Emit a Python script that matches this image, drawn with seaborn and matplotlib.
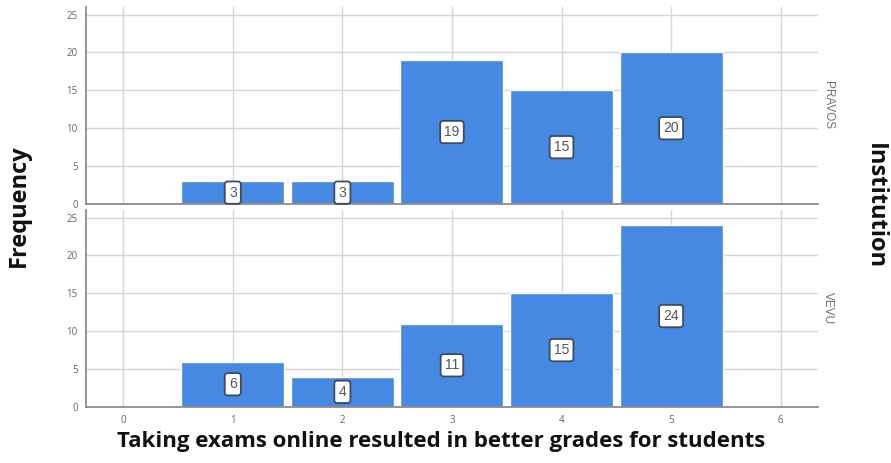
import matplotlib
matplotlib.use("Agg")
import matplotlib.pyplot as plt
import pandas as pd
import seaborn as sns

# Data
scores = [1, 2, 3, 4, 5]
pravos_counts = [3, 3, 19, 15, 20]
vevu_counts = [6, 4, 11, 15, 24]
institutions = ["PRAVOS", "VEVU"]
x_ticks = [0, 1, 2, 3, 4, 5, 6]
y_ticks = [0, 5, 10, 15, 20, 25]

df = pd.DataFrame({
    "score": scores * 2,
    "count": pravos_counts + vevu_counts,
    "institution": [institutions[0]] * len(scores) + [institutions[1]] * len(scores),
})

sns.set_theme(style="white")
plt.rcParams["font.family"] = ["Open Sans", "DejaVu Sans"]

bar_color = "#4589e2"
grid_color = "#d6d6d6"
spine_color = "#8c8c8c"
tick_color = "#666666"

fig = plt.figure(figsize=(8.91, 4.63), dpi=100)
ax_top = fig.add_axes([0.0965, 0.5594, 0.8215, 0.4255])
ax_bot = fig.add_axes([0.0965, 0.1210, 0.8215, 0.4255])

for ax, inst in zip([ax_top, ax_bot], institutions):
    sub = df[df["institution"] == inst]
    sns.barplot(data=sub, x="score", y="count", native_scale=True,
                color=bar_color, saturation=1, width=0.94, ax=ax)
    ax.set_xlim(-0.34, 6.34)
    ax.set_ylim(0, 26)
    ax.set_xticks(x_ticks)
    ax.set_yticks(y_ticks)
    ax.set_axisbelow(True)
    ax.grid(True, color=grid_color, linewidth=1)
    for side in ["top", "right"]:
        ax.spines[side].set_visible(False)
    for side in ["left", "bottom"]:
        ax.spines[side].set_color(spine_color)
        ax.spines[side].set_linewidth(1.3)
    ax.tick_params(axis="both", length=0, labelsize=7, labelcolor=tick_color, pad=6)
    ax.set_xlabel("")
    ax.set_ylabel("")
    ax.bar_label(ax.containers[0], label_type="center", fontsize=10, color="#555555",
                 family="Liberation Sans",
                 bbox=dict(boxstyle="round,pad=0.3,rounding_size=0.2", facecolor="white",
                           edgecolor="#3e4b5e", linewidth=1.3))
    pos = ax.get_position()
    fig.text(0.929, pos.y0 + pos.height * 0.5, inst, rotation=270, fontsize=8.5,
             color="#707070", family="Liberation Sans", ha="center", va="center")

ax_top.tick_params(axis="x", labelbottom=False)

fig.text(0.021, 0.555, "Frequency", rotation=90, fontsize=17, fontweight="bold",
         ha="center", va="center", color="#111111")
fig.text(0.982, 0.555, "Institution", rotation=270, fontsize=17, fontweight="bold",
         ha="center", va="center", color="#111111")
fig.text(0.495, 0.047, "Taking exams online resulted in better grades for students",
         fontsize=16, fontweight="bold", ha="center", va="center", color="#111111")

fig.savefig("out.png", dpi=100)
